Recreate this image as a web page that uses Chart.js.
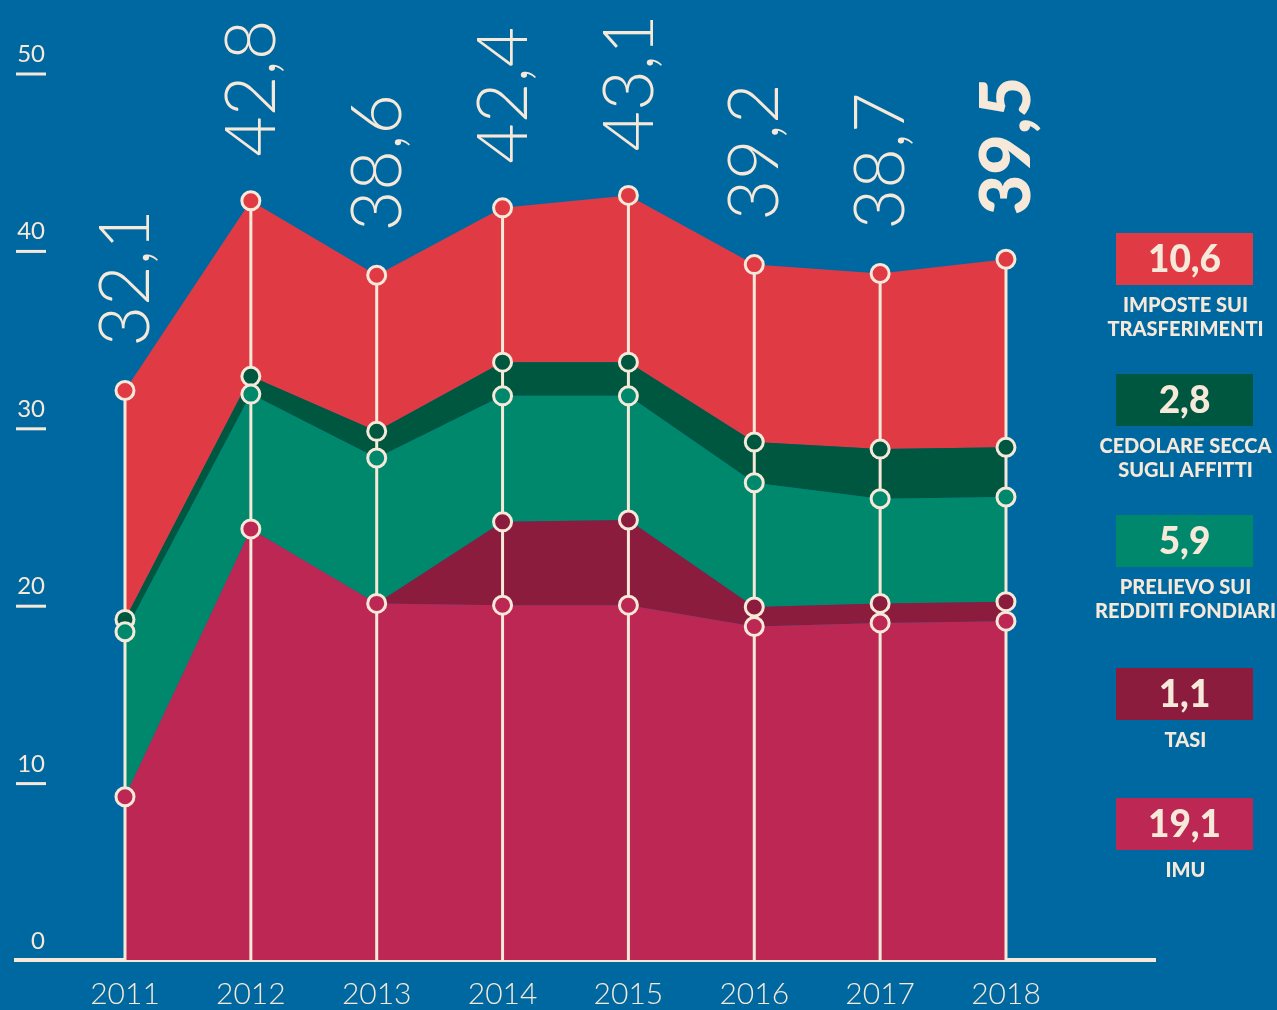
<!DOCTYPE html>
<html>
<head>
<meta charset="utf-8">
<script src="https://cdn.jsdelivr.net/npm/chart.js@4.4.1/dist/chart.umd.min.js"></script>
<style>
  html, body { margin: 0; padding: 0; background: #0068a0; }
  canvas { display: block; }
</style>
</head>
<body>
<canvas id="chart" width="1277" height="1010"></canvas>
<script>
// Data (miliardi)
const years = [2011, 2012, 2013, 2014, 2015, 2016, 2017, 2018];
const imu = [9.2, 24.3, 20.1, 20.0, 20.0, 18.8, 19.0, 19.1];
const tasi = [0, 0, 0, 4.7, 4.8, 1.1, 1.1, 1.1];
const prelievo = [9.3, 7.6, 8.2, 7.1, 7.0, 7.0, 5.9, 5.9];
const cedolare = [0.7, 1.0, 1.5, 1.9, 1.9, 2.3, 2.8, 2.8];
const trasferimenti = [12.9, 9.9, 8.8, 8.7, 9.4, 10.0, 9.9, 10.6];
const totals = [32.1, 42.8, 38.6, 42.4, 43.1, 39.2, 38.7, 39.5];
const yTicks = [0, 10, 20, 30, 40, 50];

const cream = '#f6e9d9';
const colors = {
    imu: '#bd2754',
    tasi: '#8b1c3d',
    prelievo: '#00886d',
    cedolare: '#00573f',
    trasferimenti: '#e03b45'
};

// legend boxes, top to bottom (top y of each box)
const legendTops = [233, 374, 515, 668, 798];

function fmt(v) {
    return v.toFixed(1).replace('.', ',');
}

function makeSet(label, values, color, fill) {
    return {
        label: label,
        data: years.map((yr, i) => ({ x: yr, y: values[i] })),
        backgroundColor: color,
        borderWidth: 0,
        fill: fill,
        tension: 0,
        pointRadius: values.map(v => v === 0 ? 0 : 9),
        pointBorderWidth: 3,
        pointBorderColor: cream,
        pointBackgroundColor: color
    };
}

// vertical cream lines from the top point down to the baseline
const stemsPlugin = {
    id: 'stems',
    beforeDatasetsDraw(chart) {
        const ctx = chart.ctx;
        const top = chart.getDatasetMeta(chart.data.datasets.length - 1);
        const bottom = chart.chartArea.bottom;
        ctx.save();
        ctx.strokeStyle = cream;
        ctx.lineWidth = 3;
        top.data.forEach(pt => {
            ctx.beginPath();
            ctx.moveTo(pt.x, pt.y);
            ctx.lineTo(pt.x, bottom);
            ctx.stroke();
        });
        ctx.restore();
    }
};

// big rotated totals + y labels + legend
const labelsPlugin = {
    id: 'labels',
    afterDraw(chart) {
        const ctx = chart.ctx;
        const yScale = chart.scales.y;
        const xScale = chart.scales.x;
        const area = chart.chartArea;
        ctx.save();
        ctx.fillStyle = cream;

        // totals above each year
        const size = 70;
        const capH = size * 0.72;
        totals.forEach((t, i) => {
            const last = i === totals.length - 1;
            const x = xScale.getPixelForValue(years[i]);
            const y = yScale.getPixelForValue(t) - 44;
            ctx.save();
            ctx.translate(x + capH / 2 - 1, y);
            ctx.rotate(-Math.PI / 2);
            ctx.font = (last ? '900 ' : '300 ') + size + 'px Lato, "Open Sans", sans-serif';
            ctx.textAlign = 'left';
            ctx.textBaseline = 'alphabetic';
            ctx.fillText(fmt(t), 0, 0);
            ctx.restore();
        });

        // y axis labels with small underline
        ctx.font = '24px Lato, "Open Sans", sans-serif';
        ctx.textAlign = 'right';
        ctx.textBaseline = 'alphabetic';
        ctx.strokeStyle = cream;
        ctx.lineWidth = 3;
        yTicks.forEach(v => {
            const py = yScale.getPixelForValue(v);
            ctx.fillText(String(v), area.left + 29, py - 11);
            if (v !== 0) {
                ctx.beginPath();
                ctx.moveTo(area.left, py + 1);
                ctx.lineTo(area.left + 30, py + 1);
                ctx.stroke();
            }
        });

        // legend: datasets from top layer down
        const sets = chart.data.datasets.slice().reverse();
        const boxL = 1116, boxW = 137, boxH = 52;
        const cx = boxL + boxW / 2;
        sets.forEach((ds, i) => {
            const top = legendTops[i];
            ctx.fillStyle = ds.backgroundColor;
            ctx.fillRect(boxL, top, boxW, boxH);
            ctx.fillStyle = cream;
            ctx.textAlign = 'center';
            ctx.textBaseline = 'middle';
            ctx.font = '900 37px Lato, "Open Sans", sans-serif';
            const lastVal = ds.data[ds.data.length - 1].y;
            ctx.fillText(fmt(lastVal), cx, top + boxH / 2 + 1);
            ctx.font = '900 20px Lato, "Open Sans", sans-serif';
            ds.label.split('\n').forEach((line, j) => {
                ctx.fillText(line, cx + 1, top + boxH + 21 + j * 24);
            });
        });
        ctx.restore();
    }
};

const chart = new Chart(document.getElementById('chart'), {
    type: 'line',
    data: {
        datasets: [
            makeSet('IMU', imu, colors.imu, 'origin'),
            makeSet('TASI', tasi, colors.tasi, '-1'),
            makeSet('PRELIEVO SUI\nREDDITI FONDIARI', prelievo, colors.prelievo, '-1'),
            makeSet('CEDOLARE SECCA\nSUGLI AFFITTI', cedolare, colors.cedolare, '-1'),
            makeSet('IMPOSTE SUI\nTRASFERIMENTI', trasferimenti, colors.trasferimenti, '-1')
        ]
    },
    options: {
        responsive: false,
        animation: false,
        events: [],
        layout: {
            padding: { left: 16, right: 122, top: 73, bottom: 0 }
        },
        plugins: {
            legend: { display: false },
            tooltip: { enabled: false },
            filler: { drawTime: 'beforeDatasetsDraw' }
        },
        scales: {
            x: {
                type: 'linear',
                min: 2010.134,
                max: 2019.184,
                grid: { display: false, drawTicks: false },
                border: { display: true, color: cream, width: 4 },
                afterBuildTicks: s => { s.ticks = years.map(v => ({ value: v })); },
                afterFit: s => { s.height = 50; },
                ticks: {
                    color: cream,
                    padding: 16,
                    font: { family: 'Lato, "Open Sans", sans-serif', size: 30, weight: '300' },
                    callback: v => String(v)
                }
            },
            y: {
                display: false,
                stacked: true,
                min: 0,
                max: 50
            }
        }
    },
    plugins: [stemsPlugin, labelsPlugin]
});
</script>
</body>
</html>
